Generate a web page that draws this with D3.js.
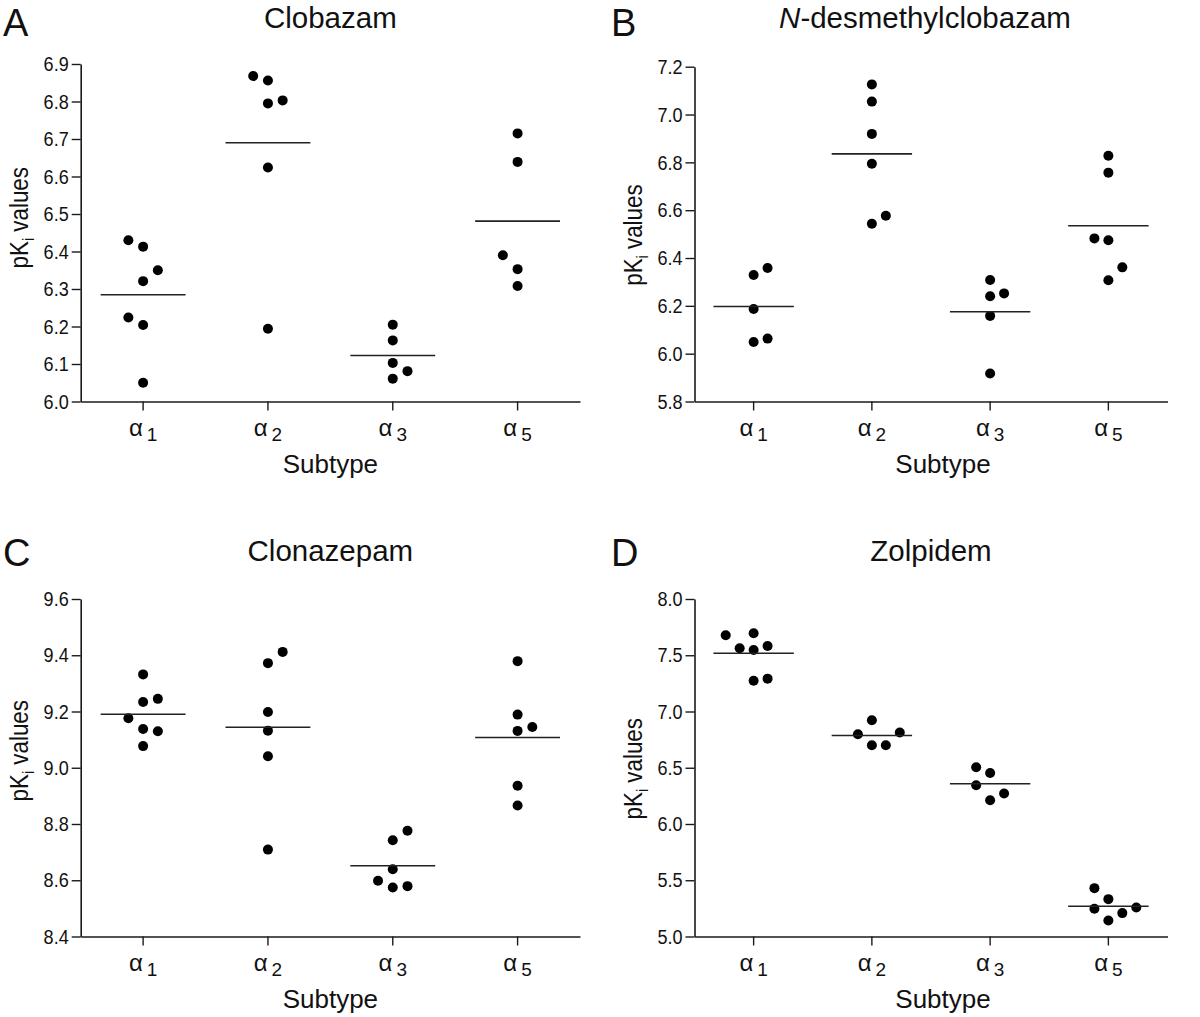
<!DOCTYPE html>
<html>
<head>
<meta charset="utf-8">
<script src="https://cdn.jsdelivr.net/npm/d3@7"></script>
<style>
  html, body { margin: 0; padding: 0; background: #fff; }
  svg { display: block; }
</style>
</head>
<body>
<svg id="chart" width="1200" height="1017"></svg>
<script>
// ---------- data ----------
const subtypes = ["1", "2", "3", "5"];           // α subscripts
const panelLetters = ["A", "B", "C", "D"];
const drugTitles = ["Clobazam", "N-desmethylclobazam", "Clonazepam", "Zolpidem"];

const clobazam = [
  [6.430, 6.413, 6.350, 6.321, 6.224, 6.204, 6.050],
  [6.868, 6.856, 6.795, 6.803, 6.624, 6.194],
  [6.205, 6.163, 6.103, 6.081, 6.061],
  [6.715, 6.639, 6.390, 6.353, 6.308]
];
const clobazamCols = [[-1,0,1,0,-1,0,0],[-1,0,0,1,0,0],[0,0,0,1,0],[0,0,-1,0,0]];

const desmethylclobazam = [
  [6.329, 6.358, 6.187, 6.049, 6.063],
  [7.126, 7.054, 6.919, 6.794, 6.543, 6.577],
  [6.308, 6.240, 6.252, 6.158, 5.917],
  [6.828, 6.757, 6.482, 6.474, 6.361, 6.307]
];
const desmethylCols = [[0,1,0,0,1],[0,0,0,0,0,1],[0,0,1,0,0],[0,0,-1,0,1,0]];

const clonazepam = [
  [9.332, 9.176, 9.234, 9.245, 9.138, 9.130, 9.077],
  [9.372, 9.412, 9.198, 9.132, 9.041, 8.709],
  [8.776, 8.742, 8.639, 8.598, 8.574, 8.579],
  [9.379, 9.189, 9.131, 9.145, 8.936, 8.866]
];
const clonazepamCols = [[0,-1,0,1,0,1,0],[0,1,0,0,0,0],[1,0,0,-1,0,1],[0,0,0,1,0,0]];

const zolpidem = [
  [7.677, 7.695, 7.562, 7.547, 7.582, 7.274, 7.292],
  [6.922, 6.798, 6.813, 6.700, 6.700],
  [6.505, 6.454, 6.345, 6.271, 6.211],
  [5.430, 5.332, 5.246, 5.258, 5.208, 5.142]
];
const zolpidemCols = [[-2,0,-1,0,1,0,1],[0,-1,2,0,1],[-1,0,-1,1,0],[-1,0,-1,2,1,0]];

const yDomains = [[6.0, 6.9], [5.8, 7.2], [8.4, 9.6], [5.0, 8.0]];
const yTickValues = [
  [6.0, 6.1, 6.2, 6.3, 6.4, 6.5, 6.6, 6.7, 6.8, 6.9],
  [5.8, 6.0, 6.2, 6.4, 6.6, 6.8, 7.0, 7.2],
  [8.4, 8.6, 8.8, 9.0, 9.2, 9.4, 9.6],
  [5.0, 5.5, 6.0, 6.5, 7.0, 7.5, 8.0]
];

const panelValues = [clobazam, desmethylclobazam, clonazepam, zolpidem];
const panelCols = [clobazamCols, desmethylCols, clonazepamCols, zolpidemCols];

// ---------- layout ----------
const layout = [
  { x0: 80.7,  x1: 580,    top: 64,   bottom: 401.5, letterX: 3,   letterY: 36,  titleY: 28,  labelShift: -15 },
  { x0: 694.5, x1: 1167.5, top: 66.7, bottom: 401.5, letterX: 611, letterY: 36,  titleY: 28,  labelShift: 1 },
  { x0: 80.7,  x1: 580,    top: 599,  bottom: 936.5, letterX: 3,   letterY: 566, titleY: 561, labelShift: -17 },
  { x0: 694.5, x1: 1167.5, top: 599,  bottom: 936.5, letterX: 611, letterY: 566, titleY: 561, labelShift: 1 }
];

const FONT = "'Liberation Sans', Arial, Helvetica, sans-serif";
const INK = "#1a1a1a";
const SQ = 0.86;   // horizontal squeeze for the narrow-looking axis text

const svg = d3.select("#chart");

panelValues.forEach((vals, p) => {
  const L = layout[p];
  const g = svg.append("g");

  const x = d3.scaleBand().domain(subtypes).range([L.x0, L.x1]).padding(0);
  const y = d3.scaleLinear().domain(yDomains[p]).range([L.bottom, L.top]);
  const bw = x.bandwidth();
  const step = bw * 0.118;

  // y axis
  const yAxis = d3.axisLeft(y).tickValues(yTickValues[p]).tickFormat(d3.format(".1f"))
    .tickSize(9).tickSizeOuter(0).tickPadding(3);
  const yg = g.append("g").attr("transform", `translate(${L.x0},0)`).call(yAxis);
  yg.select(".domain").attr("stroke", INK).attr("stroke-width", 1.6);
  yg.selectAll(".tick line").attr("stroke", INK).attr("stroke-width", 1.4);
  yg.selectAll(".tick text")
    .attr("font-family", FONT).attr("font-size", 21).attr("fill", "#111")
    .attr("x", -12 / SQ)
    .attr("transform", `scale(${SQ},1)`);

  // x axis
  const xAxis = d3.axisBottom(x).tickSize(9).tickSizeOuter(0).tickFormat("");
  const xg = g.append("g").attr("transform", `translate(0,${L.bottom})`).call(xAxis);
  xg.select(".domain").attr("stroke", INK).attr("stroke-width", 1.6);
  xg.selectAll(".tick line").attr("stroke", INK).attr("stroke-width", 1.4);
  xg.selectAll(".tick").each(function(d) {
    const t = d3.select(this).append("text")
      .attr("y", 34).attr("text-anchor", "middle").attr("fill", "#111");
    t.append("tspan").attr("font-family", FONT).attr("font-size", 24).text("α");
    t.append("tspan").attr("font-family", FONT).attr("font-size", 19).attr("dx", 4).attr("dy", 5).text(d);
  });

  // x axis title
  g.append("text")
    .attr("x", (L.x0 + L.x1) / 2 + (p % 2 === 1 ? 12 : 0))
    .attr("y", L.bottom + 71)
    .attr("text-anchor", "middle")
    .attr("font-family", FONT).attr("font-size", 26).attr("fill", "#111")
    .text("Subtype");

  // y axis title
  const yc = (L.top + L.bottom) / 2 + L.labelShift;
  const yt = g.append("text")
    .attr("transform", `translate(${L.x0 - 53},${yc}) rotate(-90) scale(${SQ},1)`)
    .attr("text-anchor", "middle")
    .attr("font-family", FONT).attr("font-size", 26).attr("fill", "#111");
  yt.append("tspan").text("pK");
  yt.append("tspan").attr("font-size", 17).attr("dy", 6).text("i");
  yt.append("tspan").attr("dy", -6).text(" values");

  // title
  const tt = g.append("text")
    .attr("x", (L.x0 + L.x1) / 2 - (p === 1 ? 6 : 0))
    .attr("y", L.titleY)
    .attr("text-anchor", "middle")
    .attr("font-family", FONT).attr("font-size", 29.5).attr("fill", "#111");
  if (drugTitles[p].startsWith("N-")) {
    tt.append("tspan").attr("font-style", "italic").text("N");
    tt.append("tspan").text(drugTitles[p].slice(1));
  } else {
    tt.text(drugTitles[p]);
  }

  // panel letter
  g.append("text")
    .attr("x", L.letterX).attr("y", L.letterY)
    .attr("font-family", FONT).attr("font-size", 38).attr("fill", "#111")
    .text(panelLetters[p]);

  // points and mean lines
  subtypes.forEach((s, i) => {
    const cx = x(s) + bw / 2;
    const pts = vals[i].map((v, k) => ({ v, c: panelCols[p][i][k] }));
    g.append("g").selectAll("circle").data(pts).join("circle")
      .attr("cx", d => cx + d.c * step)
      .attr("cy", d => y(d.v))
      .attr("r", 5)
      .attr("fill", "#000");
    const m = d3.mean(vals[i]);
    g.append("line")
      .attr("x1", cx - bw * 0.34).attr("x2", cx + bw * 0.34)
      .attr("y1", y(m)).attr("y2", y(m))
      .attr("stroke", "#222").attr("stroke-width", 1.6);
  });
});
</script>
</body>
</html>
